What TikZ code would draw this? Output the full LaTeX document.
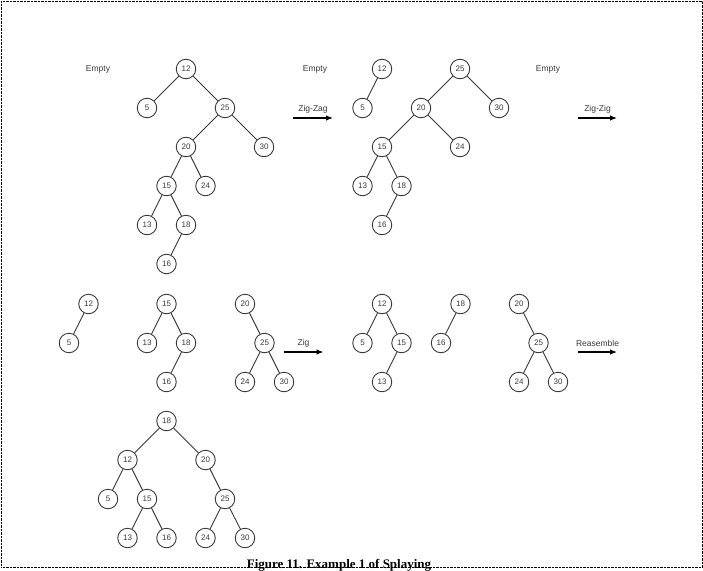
\documentclass[tikz,border=0pt]{standalone}
\usepackage{fontspec}
\setmainfont{Liberation Serif}
\setsansfont{Liberation Sans}
\usepackage{tikz}
\usetikzlibrary{calc, arrows.meta}

\definecolor{keygray}{HTML}{3A3A3A}

\tikzset{
  keynode/.style={circle, draw=keygray, line width=0.9pt, minimum size=19.5pt, inner sep=0pt,
    text=keygray, font=\sffamily\fontsize{8}{9}\selectfont},
  edge/.style={draw=keygray, line width=0.9pt},
  note/.style={text=keygray, font=\sffamily\fontsize{8.5}{10}\selectfont},
  steparrow/.style={line width=1.2pt, -{Latex[length=7pt,width=5.5pt]}}
}

\begin{document}
\begin{tikzpicture}[x=1pt, y=-1pt] % one unit per pixel of the page
  % Page frame
  \clip (0,0) rectangle (703,570);
  \fill[white] (0,0) rectangle (703,570);
  \draw[line width=0.6pt, dash pattern=on 0.7pt off 0.7pt] (1,1) rectangle (702,567.5);

  % Step 1: left tree, right tree and the whole tree
  \node[note] (e1) at (98,69) {Empty};
  \node[keynode] (a12) at (186,69) {12};
  \node[keynode] (a5) at (147,108) {5};
  \node[keynode] (a25) at (225,108) {25};
  \node[keynode] (a20) at (186,147) {20};
  \node[keynode] (a30) at (264,147) {30};
  \node[keynode] (a15) at (166.5,186) {15};
  \node[keynode] (a24) at (205.5,186) {24};
  \node[keynode] (a13) at (147,225) {13};
  \node[keynode] (a18) at (186,225) {18};
  \node[keynode] (a16) at (166.5,264) {16};
  \draw[edge] (a12) -- (a5);
  \draw[edge] (a12) -- (a25);
  \draw[edge] (a25) -- (a20);
  \draw[edge] (a25) -- (a30);
  \draw[edge] (a20) -- (a15);
  \draw[edge] (a20) -- (a24);
  \draw[edge] (a15) -- (a13);
  \draw[edge] (a15) -- (a18);
  \draw[edge] (a18) -- (a16);
  \node[note] (e2) at (315,69) {Empty};

  % Zig-Zag arrow
  \coordinate (zz1) at (293,118);
  \coordinate (zz2) at (333,118);
  \draw[steparrow] (zz1) -- (zz2);
  \node[note, above=1.5pt] at ($(zz1)!0.5!(zz2)$) {Zig-Zag};

  % Step 2
  \node[keynode] (b12) at (382,69) {12};
  \node[keynode] (b5) at (362.5,108) {5};
  \draw[edge] (b12) -- (b5);
  \node[keynode] (b25) at (460,69) {25};
  \node[keynode] (b20) at (421,108) {20};
  \node[keynode] (b30) at (499,108) {30};
  \node[keynode] (b15) at (382,147) {15};
  \node[keynode] (b24) at (460,147) {24};
  \node[keynode] (b13) at (362.5,186) {13};
  \node[keynode] (b18) at (401.5,186) {18};
  \node[keynode] (b16) at (382,225) {16};
  \draw[edge] (b25) -- (b20);
  \draw[edge] (b25) -- (b30);
  \draw[edge] (b20) -- (b15);
  \draw[edge] (b20) -- (b24);
  \draw[edge] (b15) -- (b13);
  \draw[edge] (b15) -- (b18);
  \draw[edge] (b18) -- (b16);
  \node[note] (e3) at (548,69) {Empty};

  % Zig-Zig arrow
  \coordinate (zg1) at (578,118);
  \coordinate (zg2) at (617,118);
  \draw[steparrow] (zg1) -- (zg2);
  \node[note, above=1.5pt] at ($(zg1)!0.5!(zg2)$) {Zig-Zig};

  % Step 3
  \node[keynode] (c12) at (88.5,304) {12};
  \node[keynode] (c5) at (69,343) {5};
  \draw[edge] (c12) -- (c5);
  \node[keynode] (c15) at (166.5,304) {15};
  \node[keynode] (c13) at (147,343) {13};
  \node[keynode] (c18) at (186,343) {18};
  \node[keynode] (c16) at (166.5,382) {16};
  \draw[edge] (c15) -- (c13);
  \draw[edge] (c15) -- (c18);
  \draw[edge] (c18) -- (c16);
  \node[keynode] (c20) at (245,304) {20};
  \node[keynode] (c25) at (264.5,343) {25};
  \node[keynode] (c24) at (245,382) {24};
  \node[keynode] (c30) at (284,382) {30};
  \draw[edge] (c20) -- (c25);
  \draw[edge] (c25) -- (c24);
  \draw[edge] (c25) -- (c30);

  % Zig arrow
  \coordinate (zi1) at (283.5,352);
  \coordinate (zi2) at (323.5,352);
  \draw[steparrow] (zi1) -- (zi2);
  \node[note, above=1.5pt] at ($(zi1)!0.5!(zi2)$) {Zig};

  % Step 4
  \node[keynode] (d12) at (382,304) {12};
  \node[keynode] (d5) at (362.5,343) {5};
  \node[keynode] (d15) at (401.5,343) {15};
  \node[keynode] (d13) at (382,382) {13};
  \draw[edge] (d12) -- (d5);
  \draw[edge] (d12) -- (d15);
  \draw[edge] (d15) -- (d13);
  \node[keynode] (d18) at (460.5,304) {18};
  \node[keynode] (d16) at (441,343) {16};
  \draw[edge] (d18) -- (d16);
  \node[keynode] (d20) at (519,304) {20};
  \node[keynode] (d25) at (538.5,343) {25};
  \node[keynode] (d24) at (519,382) {24};
  \node[keynode] (d30) at (558,382) {30};
  \draw[edge] (d20) -- (d25);
  \draw[edge] (d25) -- (d24);
  \draw[edge] (d25) -- (d30);

  % Reasemble arrow
  \coordinate (ra1) at (578,352);
  \coordinate (ra2) at (617,352);
  \draw[steparrow] (ra1) -- (ra2);
  \node[note, above=1.5pt] at ($(ra1)!0.5!(ra2)$) {Reasemble};

  % Final tree
  \node[keynode] (f18) at (166.5,421) {18};
  \node[keynode] (f12) at (127.5,460) {12};
  \node[keynode] (f20) at (205.5,460) {20};
  \node[keynode] (f5) at (108,499) {5};
  \node[keynode] (f15) at (147,499) {15};
  \node[keynode] (f25) at (225,499) {25};
  \node[keynode] (f13) at (127.5,538) {13};
  \node[keynode] (f16) at (166.5,538) {16};
  \node[keynode] (f24) at (205.5,538) {24};
  \node[keynode] (f30) at (245,538) {30};
  \draw[edge] (f18) -- (f12);
  \draw[edge] (f18) -- (f20);
  \draw[edge] (f12) -- (f5);
  \draw[edge] (f12) -- (f15);
  \draw[edge] (f15) -- (f13);
  \draw[edge] (f15) -- (f16);
  \draw[edge] (f20) -- (f25);
  \draw[edge] (f25) -- (f24);
  \draw[edge] (f25) -- (f30);

  % Caption (cut by the page edge)
  \node[anchor=base, font=\bfseries\fontsize{13}{15}\selectfont] (cap) at (339,568.5) {Figure 11. Example 1 of Splaying};
\end{tikzpicture}
\end{document}
